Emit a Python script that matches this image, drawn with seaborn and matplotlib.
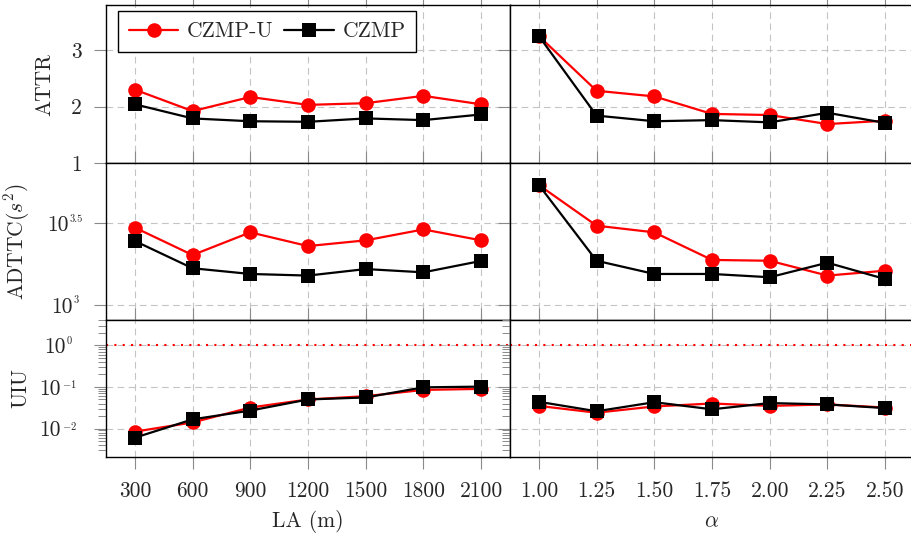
import matplotlib
matplotlib.use('Agg')
import matplotlib.pyplot as plt
import matplotlib.transforms as mtransforms
from matplotlib.lines import Line2D
from matplotlib.ticker import FixedLocator, LogLocator, NullLocator, NullFormatter
import seaborn as sns

# x values of the two columns
la = [300, 600, 900, 1200, 1500, 1800, 2100]
alpha = [1.00, 1.25, 1.50, 1.75, 2.00, 2.25, 2.50]

# ATTR
attr_la_u = [2.30, 1.92, 2.17, 2.03, 2.06, 2.19, 2.04]
attr_la = [2.04, 1.79, 1.74, 1.73, 1.79, 1.76, 1.86]
attr_alpha_u = [3.25, 2.28, 2.18, 1.87, 1.85, 1.69, 1.75]
attr_alpha = [3.25, 1.84, 1.74, 1.76, 1.72, 1.89, 1.71]

# ADTTC (s^2)
adttc_la_u = [2979, 2023, 2786, 2296, 2489, 2904, 2489]
adttc_la = [2466, 1679, 1549, 1514, 1660, 1585, 1862]
adttc_alpha_u = [5433, 3062, 2786, 1888, 1866, 1514, 1622]
adttc_alpha = [5433, 1866, 1549, 1549, 1479, 1816, 1442]

# UIU
uiu_la_u = [0.0084, 0.014, 0.032, 0.050, 0.060, 0.085, 0.090]
uiu_la = [0.0060, 0.0166, 0.027, 0.050, 0.056, 0.098, 0.102]
uiu_alpha_u = [0.035, 0.024, 0.034, 0.040, 0.035, 0.038, 0.032]
uiu_alpha = [0.044, 0.026, 0.043, 0.029, 0.041, 0.038, 0.031]

row_labels = ['ATTR', r'ADTTC$(s^2)$', 'UIU']
adttc_ticks = [1000, 3162.28]
adttc_exps = ['3', '3.5']
uiu_ticks = [0.01, 0.1, 1.0]
uiu_exps = [r'$-2$', r'$-1$', '0']

sns.set_style('ticks')
plt.rcParams['font.family'] = 'serif'
plt.rcParams['font.serif'] = ['cmr10', 'DejaVu Serif']
plt.rcParams['mathtext.fontset'] = 'cm'
plt.rcParams['axes.formatter.use_mathtext'] = True
plt.rcParams['font.size'] = 15.5

fig = plt.figure(figsize=(9.11, 5.37), dpi=100)

W, H = 911.0, 537.0
col_x = [106, 510]
col_w = 404
rows_y = [(5, 163), (163, 320), (320, 457)]

axes = [[None, None], [None, None], [None, None]]
for r, (yt, yb) in enumerate(rows_y):
    for c in range(2):
        ax = fig.add_axes([col_x[c] / W, 1 - yb / H, col_w / W, (yb - yt) / H])
        axes[r][c] = ax

series = [
    (attr_la_u, attr_la, attr_alpha_u, attr_alpha),
    (adttc_la_u, adttc_la, adttc_alpha_u, adttc_alpha),
    (uiu_la_u, uiu_la, uiu_alpha_u, uiu_alpha),
]

red_kw = dict(color='red', marker='o', markersize=10.5, linewidth=1.6,
              markeredgewidth=0, markeredgecolor='red')
blk_kw = dict(color='black', marker='s', markersize=10.5, linewidth=1.6,
              markeredgewidth=0, markeredgecolor='black')

for r in range(3):
    lu, lc, au, ac = series[r]
    for c, (xs, yu, yc) in enumerate([(la, lu, lc), (alpha, au, ac)]):
        ax = axes[r][c]
        if r > 0:
            ax.set_yscale('log')
        if r == 2:
            ax.axhline(1.0, color='red', linewidth=1.5, dashes=(1, 3), zorder=1.5)
        sns.lineplot(x=xs, y=yu, ax=ax, legend=False, **red_kw)
        sns.lineplot(x=xs, y=yc, ax=ax, legend=False, **blk_kw)

        if c == 0:
            ax.set_xlim(150, 2250)
            ax.set_xticks(la)
            ax.set_xticklabels([str(v) for v in la])
        else:
            ax.set_xlim(0.875, 2.625)
            ax.set_xticks(alpha)
            ax.set_xticklabels(['%.2f' % v for v in alpha])

        if r == 0:
            ax.set_ylim(1, 3.8)
            ax.yaxis.set_major_locator(FixedLocator([1, 2, 3]))
            ax.set_yticklabels(['1', '2', '3'])
            ax.yaxis.set_minor_locator(NullLocator())
        elif r == 1:
            ax.set_ylim(809, 7413)
            ax.yaxis.set_major_locator(FixedLocator(adttc_ticks))
            ax.yaxis.set_minor_locator(NullLocator())
        else:
            ax.set_ylim(0.00206, 4.1)
            ax.yaxis.set_major_locator(FixedLocator(uiu_ticks))
            ax.yaxis.set_minor_locator(LogLocator(base=10, subs=range(2, 10), numticks=20))
            ax.yaxis.set_minor_formatter(NullFormatter())

        ax.grid(True, which='major', color='#c4c4c4', linewidth=0.8, dashes=(6, 4))
        ax.set_axisbelow(True)
        for s in ax.spines.values():
            s.set_color('black')
            s.set_linewidth(1.0)
            s.set_visible(True)

        ax.tick_params(axis='x', which='both', direction='out', bottom=True, top=True,
                       length=8.5, width=0.8, color='#8a8a8a', pad=9, labelsize=15.5)
        ax.tick_params(axis='y', which='major', direction='out', left=True, right=False,
                       length=8.5, width=0.8, color='#8a8a8a', pad=8.8, labelsize=15.5)
        ax.tick_params(axis='y', which='minor', direction='out', left=True, right=False,
                       length=6, width=0.7, color='#8a8a8a')
        if r < 2:
            ax.tick_params(axis='x', labelbottom=False)
        if c == 1 or r > 0:
            ax.tick_params(axis='y', labelleft=False)
        ax.set_xlabel('')
        ax.set_ylabel('')

# power-of-ten tick labels with small exponents, centred like the original
renderer = fig.canvas.get_renderer()


def power_labels(ax, ticks, exps, center_px):
    trans = mtransforms.blended_transform_factory(ax.transAxes, ax.transData)
    for t, e in zip(ticks, exps):
        base = ax.annotate('10', xy=(0, t), xycoords=trans, xytext=(0, 0),
                           textcoords='offset pixels', ha='left',
                           va='center_baseline', fontsize=15.5)
        sup = ax.annotate(e, xy=(0, t), xycoords=trans, xytext=(0, 9),
                          textcoords='offset pixels', ha='left', va='top',
                          fontsize=7.5)
        wb = base.get_window_extent(renderer).width
        ws = sup.get_window_extent(renderer).width
        total = wb + 1 + ws
        left = -center_px - total / 2
        base.xyann = (left, 0)
        sup.xyann = (left + wb + 1, 9)


power_labels(axes[1][0], adttc_ticks, adttc_exps, 106 - 65)
power_labels(axes[2][0], uiu_ticks, uiu_exps, 106 - 58)

# y labels (centre positions as in the original)
label_x = [45, 17, 21]
for r in range(3):
    ax = axes[r][0]
    ax.set_ylabel(row_labels[r], fontsize=15.5, va='center')
    ax.yaxis.set_label_coords(-(106 - label_x[r]) / col_w, 0.5)

axes[2][0].set_xlabel('LA (m)', fontsize=15.5)
axes[2][1].set_xlabel(r'$\alpha$', fontsize=15.5)
axes[2][0].xaxis.set_label_coords(0.5, -0.39)
axes[2][1].xaxis.set_label_coords(0.5, -0.40)

handles = [Line2D([], [], **red_kw), Line2D([], [], **blk_kw)]
leg = axes[0][0].legend(handles, ['CZMP-U', 'CZMP'], ncol=2, loc='upper left',
                        bbox_to_anchor=(0.03, 0.962), borderaxespad=0,
                        fontsize=15.5, frameon=True, fancybox=False, framealpha=1,
                        edgecolor='black', handlelength=2.3, handletextpad=0.4,
                        columnspacing=0.5, borderpad=0.5)
leg.get_frame().set_linewidth(1.0)

fig.savefig('out.png', dpi=100)
